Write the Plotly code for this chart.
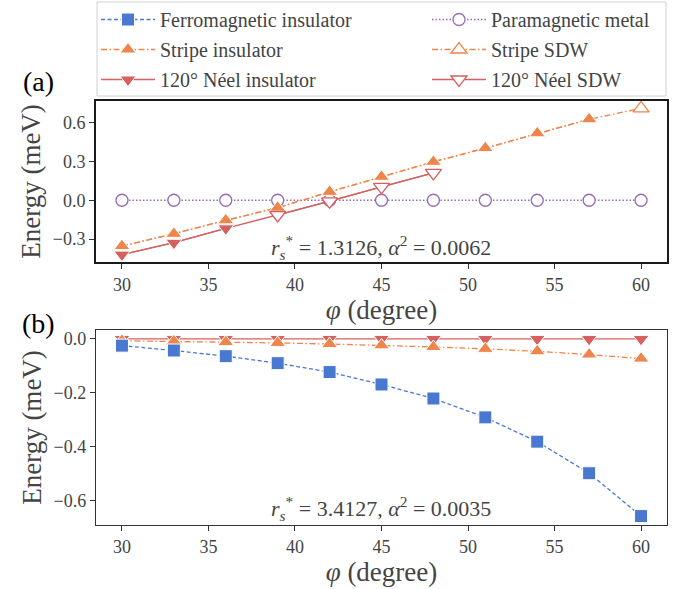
import plotly.graph_objects as go

phi = [30, 33, 36, 39, 42, 45, 48, 51, 54, 57, 60]

# Panel (a)
a_pm = [0.0] * 11
a_stripe_ins_x = [30, 33, 36, 39, 42, 45, 48, 51, 54, 57]
a_stripe_ins = [-0.354, -0.259, -0.155, -0.057, 0.065, 0.181, 0.297, 0.403, 0.517, 0.626]
a_stripe_sdw_x = [60]
a_stripe_sdw = [0.71]
a_neel_ins_x = [30, 33, 36]
a_neel_ins = [-0.42, -0.328, -0.217]
a_neel_sdw_x = [39, 42, 45, 48]
a_neel_sdw = [-0.114, -0.008, 0.103, 0.212]

# Panel (b)
b_fm = [-0.025, -0.043, -0.064, -0.090, -0.123, -0.169, -0.221, -0.291, -0.381, -0.498, -0.657]
b_stripe_ins = [-0.007, -0.009, -0.012, -0.015, -0.019, -0.024, -0.030, -0.037, -0.046, -0.058, -0.073]
b_neel_ins = [0.0] * 11

BLUE = "#4878d0"
ORANGE = "#ee854a"
RED = "#d65f5f"
PURPLE = "#956cb4"
FONT = "Liberation Serif"
TXT = "#444444"

DASH = "4px,2.5px"
DASHDOT = "6px,2.5px,1.5px,2.5px"
DOT = "1.5px,2px"
LW = 1.3

fig = go.Figure()

def filled(symbol, color, size):
    return dict(symbol=symbol, color=color, size=size, line=dict(color="white", width=1))

def hollow(symbol, color, size):
    return dict(symbol=symbol, color="white", size=size, line=dict(color=color, width=1.3))

TRI = 14

# ---- Panel (a) ----
fig.add_trace(go.Scatter(x=phi, y=a_pm, mode="lines+markers", name="Paramagnetic metal",
                         line=dict(color=PURPLE, dash=DOT, width=LW),
                         marker=hollow("circle", PURPLE, 12),
                         legend="legend2", legendgroup="pm", xaxis="x", yaxis="y"))
fig.add_trace(go.Scatter(x=a_stripe_ins_x + a_stripe_sdw_x, y=a_stripe_ins + a_stripe_sdw, mode="lines",
                         line=dict(color=ORANGE, dash=DASHDOT, width=LW), showlegend=False,
                         hoverinfo="skip", xaxis="x", yaxis="y"))
fig.add_trace(go.Scatter(x=a_neel_ins_x + a_neel_sdw_x, y=a_neel_ins + a_neel_sdw, mode="lines",
                         line=dict(color=RED, width=LW), showlegend=False,
                         hoverinfo="skip", xaxis="x", yaxis="y"))
fig.add_trace(go.Scatter(x=a_stripe_ins_x, y=a_stripe_ins, mode="lines+markers", name="Stripe insulator",
                         line=dict(color=ORANGE, dash=DASHDOT, width=LW),
                         marker=filled("triangle-up", ORANGE, TRI),
                         legend="legend", legendgroup="si", legendrank=2, xaxis="x", yaxis="y"))
fig.add_trace(go.Scatter(x=a_stripe_sdw_x, y=a_stripe_sdw, mode="lines+markers", name="Stripe SDW",
                         line=dict(color=ORANGE, dash=DASHDOT, width=LW),
                         marker=hollow("triangle-up", ORANGE, TRI),
                         legend="legend2", legendgroup="ss", xaxis="x", yaxis="y"))
fig.add_trace(go.Scatter(x=a_neel_ins_x, y=a_neel_ins, mode="lines+markers", name="120° Néel insulator",
                         line=dict(color=RED, width=LW),
                         marker=filled("triangle-down", RED, TRI),
                         legend="legend", legendgroup="ni", legendrank=3, xaxis="x", yaxis="y"))
fig.add_trace(go.Scatter(x=a_neel_sdw_x, y=a_neel_sdw, mode="lines+markers", name="120° Néel SDW",
                         line=dict(color=RED, width=LW),
                         marker=hollow("triangle-down", RED, TRI),
                         legend="legend2", legendgroup="ns", xaxis="x", yaxis="y"))

# ---- Panel (b) ----
fig.add_trace(go.Scatter(x=phi, y=b_neel_ins, mode="lines+markers", name="120° Néel insulator",
                         line=dict(color=RED, width=LW),
                         marker=filled("triangle-down", RED, TRI),
                         showlegend=False, xaxis="x2", yaxis="y2"))
fig.add_trace(go.Scatter(x=phi, y=b_stripe_ins, mode="lines+markers", name="Stripe insulator",
                         line=dict(color=ORANGE, dash=DASHDOT, width=LW),
                         marker=filled("triangle-up", ORANGE, TRI),
                         showlegend=False, xaxis="x2", yaxis="y2"))
fig.add_trace(go.Scatter(x=phi, y=b_fm, mode="lines+markers", name="Ferromagnetic insulator",
                         line=dict(color=BLUE, dash=DASH, width=LW),
                         marker=filled("square", BLUE, 13),
                         legend="legend", legendgroup="fm", legendrank=1, xaxis="x2", yaxis="y2"))

W, H = 679, 589
xdom = [96 / W, 667 / W]
ya_dom = [1 - 262 / H, 1 - 101 / H]
yb_dom = [1 - 525 / H, 1 - 330 / H]

tickfont = dict(family=FONT, size=18, color=TXT)
titlefont = dict(family=FONT, size=27, color=TXT)

def xax(domain, anchor, lw, lc):
    return dict(domain=domain, anchor=anchor, range=[28.5, 61.5], tickvals=[30, 35, 40, 45, 50, 55, 60],
                showgrid=False, zeroline=False, showline=True, mirror=True, linecolor=lc, linewidth=lw,
                ticks="outside", ticklen=5, tickwidth=1.3, tickcolor="#333333", tickfont=tickfont,
                title=dict(text="<i>φ</i> (degree)", font=titlefont, standoff=2))

def yax(domain, anchor, rng, tv, lw, lc):
    return dict(domain=domain, anchor=anchor, range=rng, tickvals=tv, tickformat=".1f",
                showgrid=False, zeroline=False, showline=True, mirror=True, linecolor=lc, linewidth=lw,
                ticks="outside", ticklen=5, tickwidth=1.3, tickcolor="#333333", tickfont=tickfont,
                title=dict(text="Energy (meV)", font=titlefont, standoff=4))

legfont = dict(family=FONT, size=20, color=TXT)
fig.update_layout(
    width=W, height=H, margin=dict(l=0, r=0, t=0, b=0),
    paper_bgcolor="white", plot_bgcolor="white",
    xaxis=xax(xdom, "y", 2, "#1a1a1a"),
    yaxis=yax(ya_dom, "x", [-0.477, 0.767], [-0.3, 0.0, 0.3, 0.6], 2, "#1a1a1a"),
    xaxis2=xax(xdom, "y2", 1.3, "#333333"),
    yaxis2=yax(yb_dom, "x2", [-0.69, 0.033], [-0.6, -0.4, -0.2, 0.0], 1.3, "#333333"),
    legend=dict(x=96 / W, y=1.0, xanchor="left", yanchor="top", orientation="v",
                font=legfont, bgcolor="rgba(0,0,0,0)", borderwidth=0, tracegroupgap=1,
                itemwidth=54),
    legend2=dict(x=427 / W, y=1.0, xanchor="left", yanchor="top", orientation="v",
                 font=legfont, bgcolor="rgba(0,0,0,0)", borderwidth=0, tracegroupgap=1,
                 itemwidth=54),
    shapes=[dict(type="rect", xref="paper", yref="paper", x0=97 / W, x1=666 / W,
                 y0=1 - 96 / H, y1=1 - 2 / H, line=dict(color="#d0d0d0", width=1),
                 fillcolor="white", layer="below")],
    annotations=[
        dict(text="(a)", x=38 / W, y=1 - 82 / H, xref="paper", yref="paper", showarrow=False,
             xanchor="center", yanchor="middle",
             font=dict(family=FONT, size=28, color="black")),
        dict(text="(b)", x=38 / W, y=1 - 323 / H, xref="paper", yref="paper", showarrow=False,
             xanchor="center", yanchor="middle",
             font=dict(family=FONT, size=28, color="black")),
        dict(text="<i>r</i><sub><i>s</i></sub><sup>*</sup> = 1.3126, <i>α</i><sup>2</sup> = 0.0062",
             x=381 / W, y=1 - 247 / H, xref="paper", yref="paper", showarrow=False,
             xanchor="center", yanchor="middle",
             font=dict(family=FONT, size=22, color=TXT)),
        dict(text="<i>r</i><sub><i>s</i></sub><sup>*</sup> = 3.4127, <i>α</i><sup>2</sup> = 0.0035",
             x=381 / W, y=1 - 508 / H, xref="paper", yref="paper", showarrow=False,
             xanchor="center", yanchor="middle",
             font=dict(family=FONT, size=22, color=TXT)),
    ],
)

fig.write_html("out.html")
